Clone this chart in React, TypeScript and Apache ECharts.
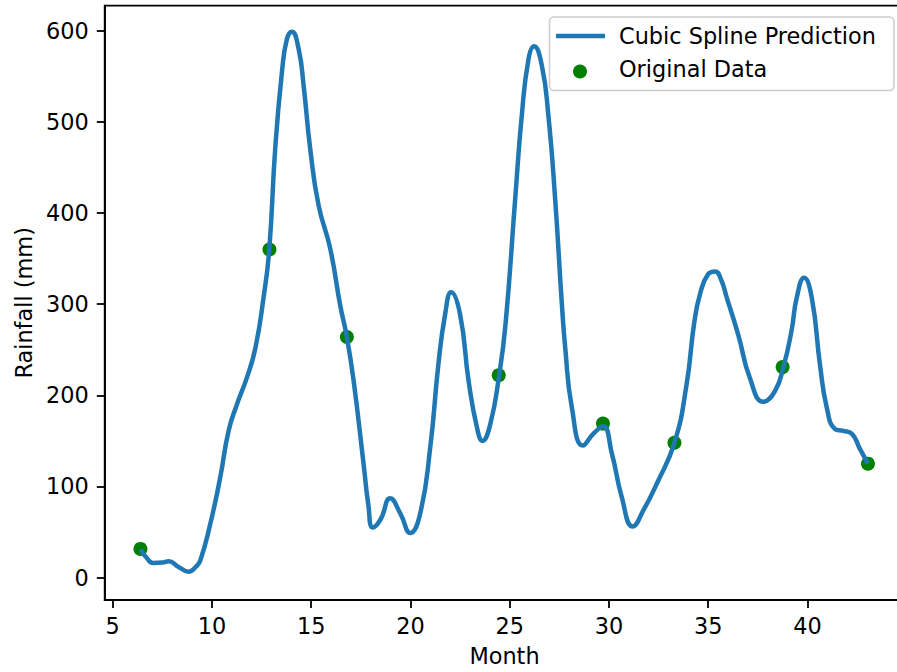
import React, { useEffect, useRef } from "react";
import * as echarts from "echarts";

// Spline curve samples (Month, Rainfall mm)
const splineX = [
  6.4, 6.7, 7.06, 7.5, 7.82, 8.3, 8.83, 9.2, 9.42, 9.92, 10.42, 10.84, 11.26, 11.77, 12.19, 12.6,
  12.89, 13.19, 13.53, 13.78, 14.03, 14.37, 14.62, 14.95, 15.37, 15.96, 16.47, 16.8, 17.14, 17.64,
  17.88, 18.11, 18.5, 18.98, 19.5, 19.99, 20.49, 21.0, 21.41, 21.75, 22.05, 22.5, 22.93, 23.35, 23.63,
  24.02, 24.47, 24.8, 25.28, 25.61, 25.95, 26.23, 26.62, 26.95, 27.29, 27.63, 27.8, 28.13, 28.69,
  29.22, 29.7, 30.15, 30.65, 31.2, 31.74, 32.41, 33.3, 33.9, 34.3, 34.6, 35.0, 35.35, 35.65, 35.94,
  36.52, 37.1, 37.78, 38.37, 38.79, 39.2, 39.46, 39.83, 40.22, 40.63, 40.97, 41.39, 41.81, 42.23,
  42.65, 43.05,
];
const splineY = [
  31, 22, 16, 16.5, 18, 12, 6.5, 12, 19, 59, 110, 161, 190, 220, 252, 307,
  360, 471, 555, 591, 599, 580, 540, 471, 409, 361, 298, 264, 216, 125,
  80, 55, 64, 87, 70, 49, 70, 143, 234, 289, 313, 289, 216, 165, 150,
  168, 222, 280, 416, 507, 569, 583, 562, 507, 416, 300, 252, 187, 145,
  158, 166, 136, 88, 56, 74, 103, 148, 210, 280, 312, 333, 336, 327, 307,
  266, 219, 193, 205, 231, 271, 307, 329, 307, 234, 187, 163, 161, 158,
  141, 125,
];

// Original data points
const dataX = [6.4, 12.9, 16.8, 24.45, 29.7, 33.3, 38.75, 43.05];
const dataY = [31.5, 360, 264, 222, 169, 148, 231, 125];

const xTicks = [5, 10, 15, 20, 25, 30, 35, 40];
const yTicks = [0, 100, 200, 300, 400, 500, 600];

const seriesNames = ["Cubic Spline Prediction", "Original Data"];
const xTitle = "Month";
const yTitle = "Rainfall (mm)";

const FONT = "DejaVu Sans";
const FS = 22.4;

export default function App() {
  const ref = useRef<HTMLDivElement>(null);

  useEffect(() => {
    if (!ref.current) return;
    const chart = echarts.init(ref.current, undefined, { renderer: "svg" });
    const lineData = splineX.map((x, i) => [x, splineY[i]]);
    const scatterData = dataX.map((x, i) => [x, dataY[i]]);
    const axisCommon = {
      type: "value" as const,
      axisLine: { show: true, onZero: false, lineStyle: { color: "#000", width: 1.8 } },
      splitLine: { show: false },
      nameLocation: "middle" as const,
      nameTextStyle: { fontFamily: FONT, fontSize: FS, color: "#000" },
    };
    chart.setOption({
      animation: false,
      grid: {
        left: 104.7,
        top: 5.7,
        width: 799.6,
        height: 597.6,
        show: true,
        borderColor: "#000",
        borderWidth: 1.8,
        backgroundColor: "transparent",
      },
      xAxis: {
        ...axisCommon,
        min: 4.6,
        max: 44.88,
        name: xTitle,
        nameGap: 45,
        axisTick: {
          show: true,
          length: 7.9,
          lineStyle: { color: "#000", width: 1.8 },
          customValues: xTicks,
        },
        axisLabel: {
          customValues: xTicks,
          margin: 15,
          fontFamily: FONT,
          fontSize: FS,
          color: "#000",
        },
      },
      yAxis: {
        ...axisCommon,
        min: -24.6,
        max: 627.6,
        name: yTitle,
        nameGap: 70,
        axisTick: {
          show: true,
          length: 7.9,
          lineStyle: { color: "#000", width: 1.8 },
          customValues: yTicks,
        },
        axisLabel: {
          customValues: yTicks,
          margin: 16,
          fontFamily: FONT,
          fontSize: FS,
          color: "#000",
        },
      },
      series: [
        {
          name: seriesNames[1],
          type: "scatter",
          data: scatterData,
          symbolSize: 14,
          itemStyle: { color: "#008000", opacity: 1 },
          z: 2,
        },
        {
          name: seriesNames[0],
          type: "line",
          data: lineData,
          smooth: 0.5,
          showSymbol: false,
          lineStyle: { color: "#1f77b4", width: 4.5 },
          z: 3,
          clip: true,
        },
      ],
      graphic: [
        {
          type: "rect",
          shape: { x: 549.5, y: 17, width: 344.5, height: 73.5, r: 4.5 },
          style: { fill: "rgba(255,255,255,0.8)", stroke: "#cccccc", lineWidth: 1.5 },
          z: 10,
        },
        {
          type: "line",
          shape: { x1: 556, y1: 36, x2: 605, y2: 36 },
          style: { stroke: "#1f77b4", lineWidth: 4.5 },
          z: 11,
        },
        {
          type: "circle",
          shape: { cx: 580, cy: 71.5, r: 7 },
          style: { fill: "#008000" },
          z: 11,
        },
        {
          type: "text",
          x: 619,
          y: 35.5,
          style: {
            text: seriesNames[0],
            font: `${FS}px "${FONT}"`,
            fill: "#000",
            verticalAlign: "middle",
          },
          z: 11,
        },
        {
          type: "text",
          x: 619,
          y: 69,
          style: {
            text: seriesNames[1],
            font: `${FS}px "${FONT}"`,
            fill: "#000",
            verticalAlign: "middle",
          },
          z: 11,
        },
      ],
    });
    return () => chart.dispose();
  }, []);

  return (
    <div
      style={{
        position: "absolute",
        left: 0,
        top: 0,
        width: 897,
        height: 672,
        overflow: "hidden",
        background: "#fff",
      }}
    >
      <div ref={ref} style={{ width: 920, height: 672 }} />
    </div>
  );
}
